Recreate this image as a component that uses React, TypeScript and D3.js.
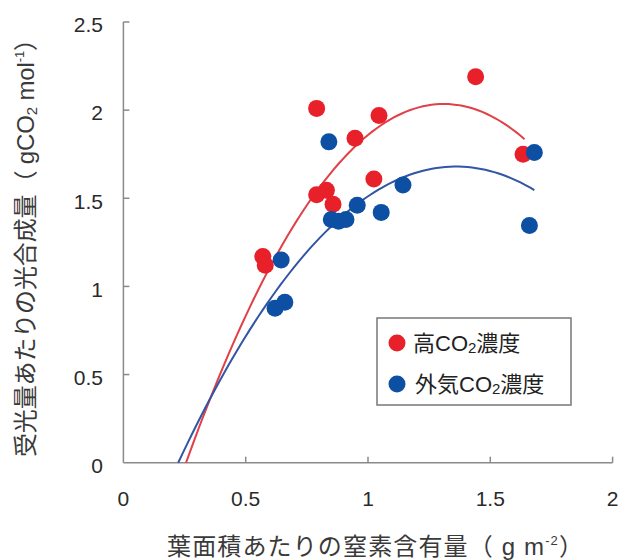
import { useMemo } from 'react';
import * as d3 from 'd3';

// 高CO2濃度
const highX = [0.57, 0.58, 0.79, 0.79, 0.83, 0.857, 0.947, 1.024, 1.045, 1.44, 1.634];
const highY = [1.17, 1.12, 2.01, 1.52, 1.545, 1.466, 1.84, 1.61, 1.97, 2.19, 1.75];
// 外気CO2濃度
const ambX = [0.62, 0.66, 0.645, 0.84, 0.85, 0.88, 0.91, 0.956, 1.054, 1.143, 1.66, 1.68];
const ambY = [0.876, 0.91, 1.15, 1.82, 1.38, 1.37, 1.38, 1.46, 1.42, 1.575, 1.345, 1.76];

// quadratic trend lines: y = a (x - h)^2 + k, drawn over [from, to]
const highFit = { a: -1.832, h: 1.31, k: 2.035, from: 0.256, to: 1.64 };
const ambFit = { a: -1.302, h: 1.36, k: 1.68, from: 0.224, to: 1.68 };

const xTicks = [0, 0.5, 1, 1.5, 2];
const yTicks = [0, 0.5, 1, 1.5, 2, 2.5];

const W = 621;
const H = 560;
const RED = '#e8202a';
const BLUE = '#0c4fa3';
const FONT = "'Liberation Sans', 'Noto Sans CJK JP', sans-serif";

export default function App() {
  const x = d3.scaleLinear().domain([0, 2]).range([123.4, 612.6]);
  const y = d3.scaleLinear().domain([0, 2.5]).range([462.7, 22]);

  const curve = (f: typeof highFit) => {
    const xs = d3.range(f.from, f.to + 1e-9, (f.to - f.from) / 80);
    return d3.line<number>()
      .x(d => x(d))
      .y(d => y(f.a * (d - f.h) ** 2 + f.k))(xs) || '';
  };

  const highPath = useMemo(() => curve(highFit), []);
  const ambPath = useMemo(() => curve(ambFit), []);

  return (
    <svg width={W} height={H} style={{ position: 'absolute', left: 0, top: 0, background: '#fff' }} fontFamily={FONT}>
      {/* axes */}
      <g stroke="#8a8a8a" strokeWidth={1.5} fill="none">
        <line x1={x(0)} x2={x(0)} y1={y(2.5)} y2={y(0)} />
        <line x1={x(0)} x2={x(2)} y1={y(0)} y2={y(0)} />
        {yTicks.filter(t => t > 0).map(t => (
          <line key={'yt' + t} x1={x(0)} x2={x(0) + 6} y1={y(t)} y2={y(t)} />
        ))}
        {xTicks.filter(t => t > 0).map(t => (
          <line key={'xt' + t} x1={x(t)} x2={x(t)} y1={y(0)} y2={y(0) - 6} />
        ))}
      </g>
      <g fill="#2a2a2a" fontSize={21}>
        {yTicks.map(t => (
          <text key={'yl' + t} x={103} y={y(t) + 3} dy="0.35em" textAnchor="end">{t}</text>
        ))}
        {xTicks.map(t => (
          <text key={'xl' + t} x={x(t)} y={506} textAnchor="middle">{t}</text>
        ))}
      </g>

      {/* trend lines */}
      <path d={highPath} fill="none" stroke="#e04048" strokeWidth={2} />
      <path d={ambPath} fill="none" stroke="#3255a4" strokeWidth={2} />

      {/* points */}
      {highX.map((v, i) => (
        <circle key={'h' + i} cx={x(v)} cy={y(highY[i])} r={8.5} fill={RED} />
      ))}
      {ambX.map((v, i) => (
        <circle key={'a' + i} cx={x(v)} cy={y(ambY[i])} r={8.5} fill={BLUE} />
      ))}

      {/* legend */}
      <rect x={377} y={318} width={194} height={87} fill="#fff" stroke="#777" strokeWidth={1.5} />
      <circle cx={397} cy={343} r={8.5} fill={RED} />
      <circle cx={397} cy={384} r={8.5} fill={BLUE} />
      <g fill="#222" fontSize={22}>
        <text x={413} y={351}>高CO<tspan fontSize={15} dy={2}>2</tspan><tspan dy={-2}>濃度</tspan></text>
        <text x={415} y={392}>外気CO<tspan fontSize={15} dy={2}>2</tspan><tspan dy={-2}>濃度</tspan></text>
      </g>

      {/* axis titles */}
      <g fill="#3a3a3a" fontSize={24}>
        <text x={167} y={555} textLength={416} lengthAdjust="spacing">
          葉面積あたりの窒素含有量（ g m<tspan fontSize={13} dy={-10}>-2</tspan><tspan dy={10}>）</tspan>
        </text>
        <text transform="translate(34,457) rotate(-90)" textLength={430} lengthAdjust="spacing">
          受光量あたりの光合成量（ gCO<tspan fontSize={15} dy={3}>2</tspan><tspan dy={-3}> mol</tspan><tspan fontSize={13} dy={-10}>-1</tspan><tspan dy={10}>）</tspan>
        </text>
      </g>
    </svg>
  );
}
